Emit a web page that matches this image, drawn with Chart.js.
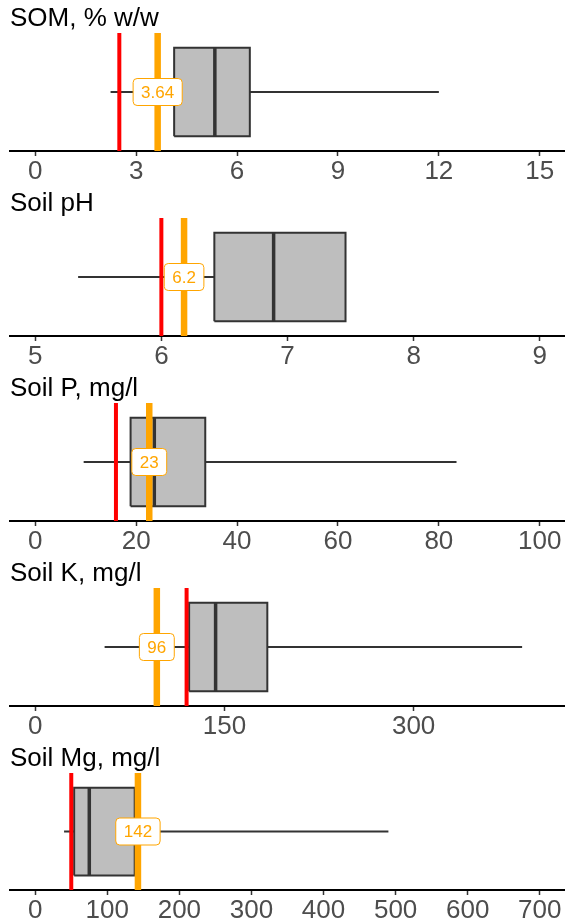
<!DOCTYPE html>
<html><head><meta charset="utf-8">
<script src="https://cdn.jsdelivr.net/npm/chart.js@4/dist/chart.umd.min.js"></script>
<style>
html,body{margin:0;padding:0;background:#fff;}
canvas{display:block;}
</style></head><body>
<canvas id="c0" width="565" height="185"></canvas>
<canvas id="c1" width="565" height="185"></canvas>
<canvas id="c2" width="565" height="185"></canvas>
<canvas id="c3" width="565" height="185"></canvas>
<canvas id="c4" width="565" height="184"></canvas>
<script>
const panelTitles = ["SOM, % w/w", "Soil pH", "Soil P, mg/l", "Soil K, mg/l", "Soil Mg, mg/l"];
const whiskerLow  = [2.24, 5.34, 9.6, 55, 40];
const quartile1   = [4.13, 6.42, 18.9, 122, 54];
const medians     = [5.34, 6.89, 23.6, 143, 75];
const quartile3   = [6.38, 7.46, 33.7, 184, 138];
const whiskerHigh = [12.0, 7.46, 83.5, 386, 490];
const redLimits   = [2.5, 6.0, 16, 120, 50];
const orangeValues = [3.64, 6.18, 22.6, 96.4, 142.5];
const orangeLabels = ["3.64", "6.2", "23", "96", "142"];
const axisMin = [0, 5, 0, 0, 0];
const axisMax = [15, 9, 100, 400, 700];
const tickValues = [
  [0, 3, 6, 9, 12, 15],
  [5, 6, 7, 8, 9],
  [0, 20, 40, 60, 80, 100],
  [0, 150, 300],
  [0, 100, 200, 300, 400, 500, 600, 700]
];

const FONT = '"Liberation Sans", Arial, sans-serif';

const labelPlugin = {
  id: 'orangeLabel',
  afterDatasetsDraw(chart, args, opts) {
    const {ctx} = chart;
    const xs = chart.scales.x, ys = chart.scales.y;
    const px = xs.getPixelForValue(opts.value);
    const py = ys.getPixelForValue(1);
    ctx.save();
    ctx.font = '17px ' + FONT;
    const tw = ctx.measureText(opts.text).width;
    const w = tw + 16, h = 27;
    ctx.beginPath();
    ctx.roundRect(px - w / 2, py - h / 2, w, h, 4);
    ctx.fillStyle = '#ffffff';
    ctx.fill();
    ctx.strokeStyle = '#FFA500';
    ctx.lineWidth = 1;
    ctx.stroke();
    ctx.fillStyle = '#FFA500';
    ctx.textAlign = 'center';
    ctx.textBaseline = 'middle';
    ctx.fillText(opts.text, px, py + 1);
    ctx.restore();
  }
};

function vline(v, y0, y1) { return [{x: v, y: y0}, {x: v, y: y1}]; }

for (let i = 0; i < 5; i++) {
  const lo = axisMin[i], hi = axisMax[i];
  const pad = (hi - lo) * 0.05;
  const ticks = tickValues[i];
  const line = {showLine: true, pointRadius: 0, fill: false, borderCapStyle: 'butt'};
  new Chart(document.getElementById('c' + i), {
    type: 'scatter',
    data: {
      datasets: [
        Object.assign({}, line, {
          data: [{x: whiskerLow[i], y: 1}, {x: whiskerHigh[i], y: 1}],
          borderColor: '#333333', borderWidth: 2, order: 6
        }),
        Object.assign({}, line, {
          data: [{x: quartile1[i], y: 1.375}, {x: quartile3[i], y: 1.375}],
          borderColor: 'rgba(0,0,0,0)', borderWidth: 0,
          backgroundColor: '#BEBEBE', fill: {value: 0.625}, order: 5
        }),
        Object.assign({}, line, {
          data: [
            {x: quartile1[i], y: 0.625}, {x: quartile3[i], y: 0.625},
            {x: quartile3[i], y: 1.375}, {x: quartile1[i], y: 1.375},
            {x: quartile1[i], y: 0.625}
          ],
          borderColor: '#333333', borderWidth: 2, borderJoinStyle: 'miter', order: 4
        }),
        Object.assign({}, line, {
          data: vline(medians[i], 0.625, 1.375),
          borderColor: '#333333', borderWidth: 3.5, order: 3
        }),
        Object.assign({}, line, {
          data: vline(redLimits[i], 0.5, 1.5),
          borderColor: '#FF0000', borderWidth: 4, order: 2
        }),
        Object.assign({}, line, {
          data: vline(orangeValues[i], 0.5, 1.5),
          borderColor: '#FFA500', borderWidth: 6.5, order: 1
        })
      ]
    },
    options: {
      responsive: false,
      animation: false,
      devicePixelRatio: 1,
      events: [],
      layout: {padding: {left: 10, right: 0, top: 0, bottom: -3}},
      plugins: {
        legend: {display: false},
        tooltip: {enabled: false},
        title: {
          display: true, text: panelTitles[i], align: 'start', color: '#000000',
          font: {family: FONT, size: 26, weight: 'normal', lineHeight: 1},
          padding: {top: 6, bottom: 1}
        },
        orangeLabel: {value: orangeValues[i], text: orangeLabels[i]}
      },
      scales: {
        x: {
          type: 'linear', min: lo - pad, max: hi + pad,
          afterBuildTicks: (axis) => { axis.ticks = ticks.map(v => ({value: v})); },
          ticks: {
            callback: (v) => String(v), color: '#4D4D4D', padding: 3,
            autoSkip: false, maxRotation: 0,
            font: {family: FONT, size: 26, lineHeight: 1}
          },
          grid: {drawOnChartArea: false, drawTicks: true, tickLength: 5, tickColor: '#333333', tickWidth: 1.5},
          border: {display: true, color: '#000000', width: 2}
        },
        y: {type: 'linear', min: 0.5, max: 1.5, display: false}
      }
    },
    plugins: [labelPlugin]
  });
}
</script>
</body></html>
